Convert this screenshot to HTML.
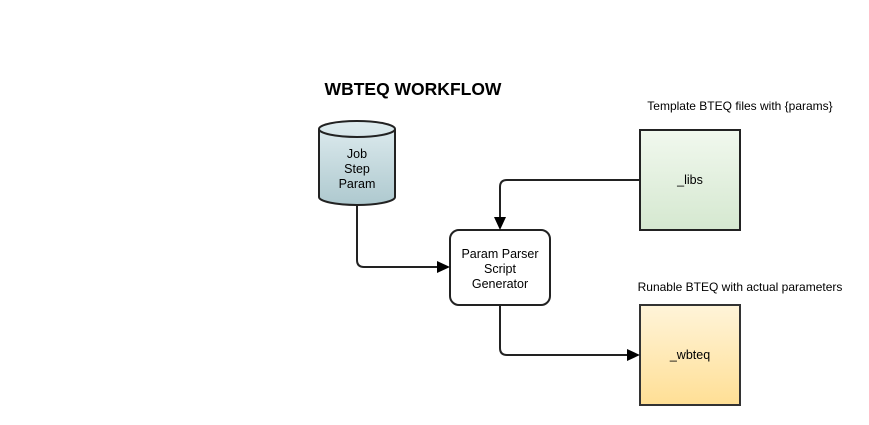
<!DOCTYPE html>
<html><head><style>body{margin:0;background:#fff}svg{display:block}text{font-family:"Liberation Sans",sans-serif;fill:#000}</style></head>
<body>
<svg width="869" height="425" viewBox="0 0 869 425">
<defs>
<linearGradient id="g1" x1="0" y1="0" x2="0" y2="1"><stop offset="0" stop-color="#dfecef"/><stop offset="1" stop-color="#aec9cf"/></linearGradient>
<linearGradient id="g2" x1="0" y1="0" x2="0" y2="1"><stop offset="0" stop-color="#f1f8ee"/><stop offset="1" stop-color="#d5e8d0"/></linearGradient>
<linearGradient id="g3" x1="0" y1="0" x2="0" y2="1"><stop offset="0" stop-color="#fff4d9"/><stop offset="1" stop-color="#ffdf95"/></linearGradient>
</defs>
<text x="413" y="95" font-size="17.5" font-weight="bold" text-anchor="middle">WBTEQ WORKFLOW</text>
<text x="740" y="110" font-size="12" text-anchor="middle">Template BTEQ files with {params}</text>
<text x="740" y="291" font-size="12" text-anchor="middle">Runable BTEQ with actual parameters</text>
<path d="M319,129 A38,8 0 0 1 395,129 V197 A38,8 0 0 1 319,197 Z" fill="url(#g1)" stroke="#222" stroke-width="2"/>
<path d="M319,129 A38,8 0 0 0 395,129" fill="none" stroke="#222" stroke-width="2"/>
<text font-size="12.5" text-anchor="middle"><tspan x="357" y="158">Job</tspan><tspan x="357" y="173">Step</tspan><tspan x="357" y="188">Param</tspan></text>
<rect x="450" y="230" width="100" height="75" rx="9" fill="#fff" stroke="#222" stroke-width="2"/>
<text font-size="12.5" text-anchor="middle"><tspan x="500" y="258">Param Parser</tspan><tspan x="500" y="273">Script</tspan><tspan x="500" y="288">Generator</tspan></text>
<rect x="640" y="130" width="100" height="100" fill="url(#g2)" stroke="#222" stroke-width="2"/>
<text x="690" y="184" font-size="12.5" text-anchor="middle">_libs</text>
<rect x="640" y="305" width="100" height="100" fill="url(#g3)" stroke="#333" stroke-width="2"/>
<text x="690" y="359" font-size="12.5" text-anchor="middle">_wbteq</text>
<g fill="none" stroke="#222" stroke-width="2">
<path d="M357,205 V260 Q357,267 364,267 H438"/>
<path d="M640,180 H507 Q500,180 500,187 V218"/>
<path d="M500,305 V348 Q500,355 507,355 H628"/>
</g>
<g fill="#000">
<polygon points="450,267 437,261 437,273"/>
<polygon points="500,230 494,217 506,217"/>
<polygon points="640,355 627,349 627,361"/>
</g>
</svg>
</body></html>
